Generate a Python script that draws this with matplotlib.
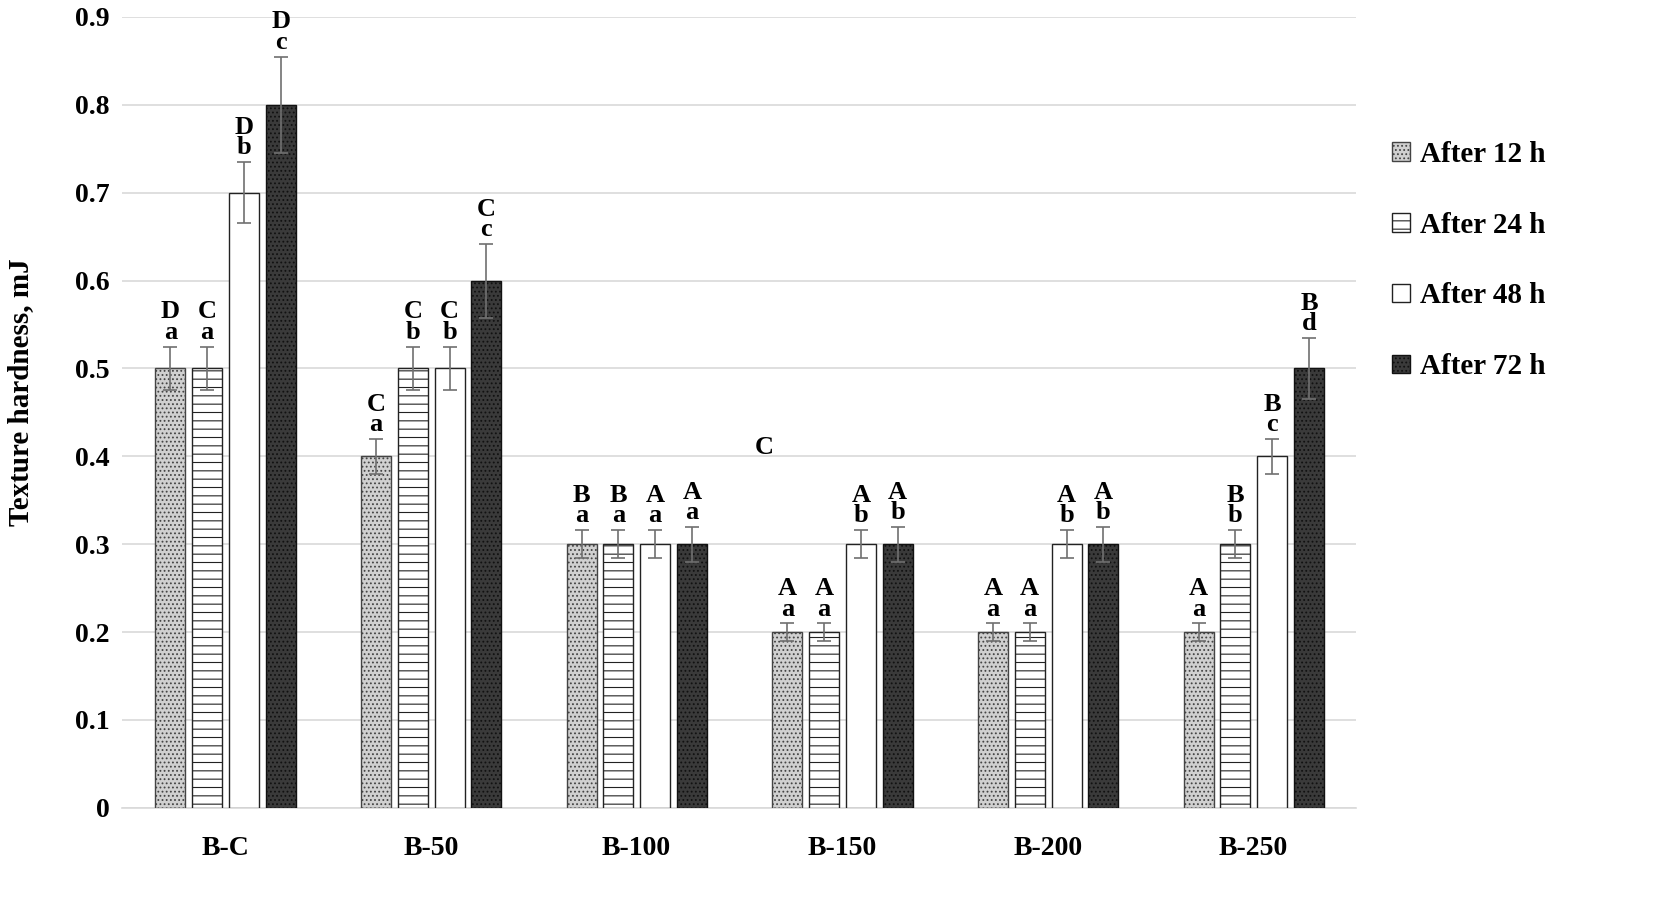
import numpy as np
import matplotlib.pyplot as plt
from matplotlib.patches import Patch

# ===============================
# Data
# ===============================
groups = ["B-C", "B-50", "B-100", "B-150", "B-200", "B-250"]
series = ["After 12 h", "After 24 h", "After 48 h", "After 72 h"]

h12 = [0.5, 0.4, 0.3, 0.2, 0.2, 0.2]
h24 = [0.5, 0.5, 0.3, 0.2, 0.2, 0.3]
h48 = [0.7, 0.5, 0.3, 0.3, 0.3, 0.4]
h72 = [0.8, 0.6, 0.3, 0.3, 0.3, 0.5]

err12 = [0.025, 0.02, 0.016, 0.01, 0.01, 0.01]
err24 = [0.025, 0.025, 0.016, 0.01, 0.01, 0.016]
err48 = [0.035, 0.025, 0.016, 0.016, 0.016, 0.02]
err72 = [0.055, 0.042, 0.02, 0.02, 0.02, 0.035]

upper12 = ["D", "C", "B", "A", "A", "A"]
upper24 = ["C", "C", "B", "A", "A", "B"]
upper48 = ["D", "C", "A", "A", "A", "B"]
upper72 = ["D", "C", "A", "A", "A", "B"]

lower12 = ["a", "a", "a", "a", "a", "a"]
lower24 = ["a", "b", "a", "a", "a", "b"]
lower48 = ["b", "b", "a", "b", "b", "c"]
lower72 = ["c", "c", "a", "b", "b", "d"]

values = [h12, h24, h48, h72]
errors = [err12, err24, err48, err72]
uppers = [upper12, upper24, upper48, upper72]
lowers = [lower12, lower24, lower48, lower72]

# ===============================
# Style
# ===============================
plt.rcParams['font.family'] = ['Liberation Serif', 'DejaVu Serif']
plt.rcParams['font.weight'] = 'bold'
plt.rcParams['hatch.linewidth'] = 0.8

faces = ['#d0d0d0', 'white', 'white', '#3a3a3a']
hatches = ['....', '--', '', '....']
edges = ['#444444', '#222222', '#222222', '#111111']

fig = plt.figure(figsize=(16.54, 9.17), dpi=100)
ax = fig.add_axes([0.074, 0.119, 0.746, 0.8625])

x = np.arange(len(groups))
offsets = [-0.267, -0.088, 0.091, 0.270]
width = 0.146

for i in range(4):
    ax.bar(x + offsets[i], values[i], width, color=faces[i], hatch=hatches[i],
           edgecolor=edges[i], linewidth=1.0, zorder=3)
    ax.errorbar(x + offsets[i], values[i], yerr=errors[i], fmt='none',
                ecolor='#707070', elinewidth=1.2, capsize=5, capthick=1.2, zorder=4)
    for j in range(len(groups)):
        ax.annotate(uppers[i][j] + "\n" + lowers[i][j],
                    (x[j] + offsets[i], values[i][j] + errors[i][j]),
                    xytext=(0, 2), textcoords='offset points',
                    ha='center', va='bottom', fontsize=19, fontweight='bold',
                    linespacing=0.85)

# stray label in the original figure
ax.text(2.62, 0.41, "C", ha='center', va='center', fontsize=19, fontweight='bold')

ax.set_xlim(-0.5, len(groups) - 0.5)
ax.set_ylim(0, 0.9)
ax.set_yticks(np.arange(0, 0.91, 0.1))
ax.set_yticklabels(["0"] + [f"{v:.1f}" for v in np.arange(0.1, 0.91, 0.1)])
ax.set_xticks(x)
ax.set_xticklabels(groups)
ax.tick_params(axis='both', length=0, labelsize=20)
ax.tick_params(axis='y', pad=9)
ax.tick_params(axis='x', pad=20)
for lab in ax.get_xticklabels() + ax.get_yticklabels():
    lab.set_fontweight('bold')

ax.grid(axis='y', color='#d9d9d9', linewidth=1.2, zorder=0)
ax.set_axisbelow(True)
for s in ['top', 'right', 'left']:
    ax.spines[s].set_visible(False)
ax.spines['bottom'].set_color('#d9d9d9')
ax.spines['bottom'].set_linewidth(1.2)

ax.set_ylabel("Texture hardness, mJ", fontsize=21, fontweight='bold')
ax.yaxis.set_label_coords(-0.072, 0.526)

handles = [Patch(facecolor=faces[i], hatch=hatches[i], edgecolor=edges[i], label=series[i])
           for i in range(4)]
fig.legend(handles=handles, loc='upper left', bbox_to_anchor=(0.826, 0.875),
           frameon=False, handlelength=0.6, handleheight=0.6,
           handletextpad=0.35, labelspacing=1.5, prop={'weight': 'bold', 'size': 21})

fig.savefig("out.png", dpi=100)
